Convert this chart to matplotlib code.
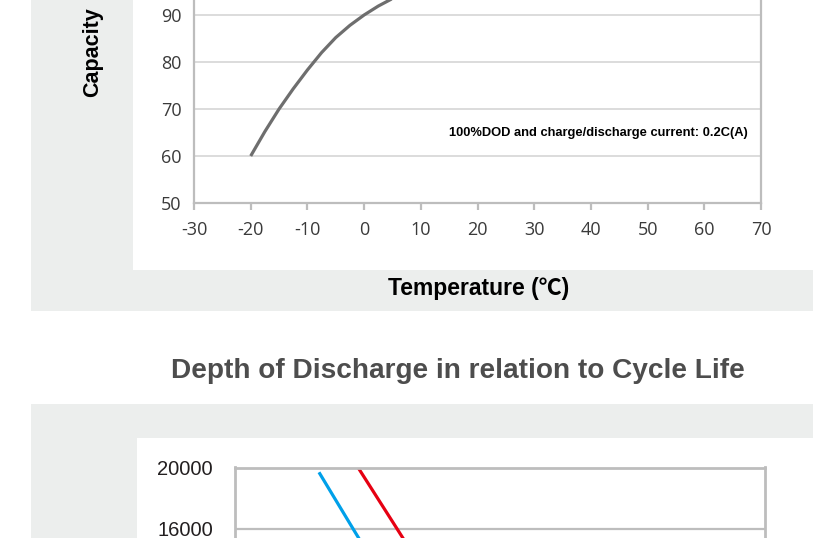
import matplotlib as mpl
mpl.use('Agg')
import matplotlib.pyplot as plt
from matplotlib.patches import Rectangle

plt.rcParams['axes.unicode_minus'] = False

# capacity vs temperature (upper chart, top is cut off in the screenshot)
temps = [-20, -17.5, -15, -12.5, -10, -7.5, -5, -2.5, 0, 2.5, 5, 7.5, 10, 15, 20, 25, 30, 40, 50, 60]
capacity = [60, 65.2, 70, 74.3, 78.3, 82, 85.2, 87.8, 90, 91.9, 93.5, 94.9, 96, 98, 99.2, 100, 100, 100, 100, 100]
temp_ticks = [-30, -20, -10, 0, 10, 20, 30, 40, 50, 60, 70]
cap_ticks = [50, 60, 70, 80, 90]

# depth of discharge vs cycle life (lower chart, bottom is cut off)
dod_blue = [16, 22.3, 26, 30, 40, 50, 60, 70, 80, 90, 100]
cycles_blue = [19600, 16000, 13900, 12000, 9000, 7000, 5500, 4500, 3800, 3200, 2800]
dod_red = [23.4, 30.6, 35, 40, 50, 60, 70, 80, 90, 100]
cycles_red = [19900, 16000, 13600, 11800, 9500, 7800, 6400, 5300, 4400, 3800]
cycle_ticks = [16000, 20000]

W, H = 813., 538.
GRAY_BG = '#eceeed'

def fx(px):
    return px / W

def fy(py):
    return (H - py) / H

def box(fig, x0, y0, x1, y1, color):
    fig.patches.append(Rectangle((fx(x0), fy(y1)), fx(x1) - fx(x0), fy(y0) - fy(y1),
                                 transform=fig.transFigure, facecolor=color,
                                 edgecolor='none', zorder=-10))

fig = plt.figure(figsize=(W / 100, H / 100), dpi=100)
fig.patch.set_facecolor('white')

box(fig, 31, 0, 813, 311, GRAY_BG)
box(fig, 133, 0, 813, 270, 'white')
box(fig, 31, 404, 813, 538, GRAY_BG)
box(fig, 137, 438, 813, 538, 'white')

# ---- upper chart ----
ax1 = fig.add_axes([fx(194), fy(203), (761 - 194) / W, 235 / H])
ax1.plot(temps, capacity, color='#6e6e6e', lw=2.3, solid_capstyle='butt')
ax1.set_xlim(-30, 70)
ax1.set_ylim(50, 100)
ax1.set_xticks(temp_ticks)
ax1.set_yticks(cap_ticks)
ax1.yaxis.grid(True, color='#d6d6d6', lw=1.2)
ax1.set_axisbelow(True)
for s in ['left', 'bottom', 'right']:
    ax1.spines[s].set_color('#bdbdbd')
    ax1.spines[s].set_linewidth(1.6)
ax1.spines['top'].set_visible(False)
ax1.tick_params(axis='x', direction='out', length=5, width=1.6, color='#bdbdbd',
                pad=8, labelsize=13, labelcolor='#3a3a3a')
ax1.tick_params(axis='y', length=0, pad=9, labelsize=13, labelcolor='#3a3a3a')
for lab in ax1.get_xticklabels() + ax1.get_yticklabels():
    lab.set_family('Open Sans')
ax1.text(67.7, 64.9, '100%DOD and charge/discharge current: 0.2C(A)', ha='right', va='center',
         fontsize=9.3, fontweight='bold', family='Liberation Sans', color='black')

fig.text(fx(93), fy(52), 'Capacity', rotation=90, ha='center', va='center',
         fontsize=15.5, fontweight='bold', family='Liberation Sans', color='black')
fig.text(fx(479), fy(289), 'Temperature (℃)', ha='center', va='center',
         fontsize=16.5, fontweight='bold', family=['Liberation Sans', 'Noto Sans CJK SC'],
         color='black')

# ---- lower chart ----
fig.text(fx(457.5), fy(371), 'Depth of Discharge in relation to Cycle Life', ha='center',
         va='center', fontsize=20.2, fontweight='bold', family='Liberation Sans',
         color='#4d4d4d')

ax2 = fig.add_axes([fx(235), fy(775), (765 - 235) / W, 307.5 / H])
ax2.plot(dod_blue, cycles_blue, color='#00a0e9', lw=2.3)
ax2.plot(dod_red, cycles_red, color='#e60012', lw=2.3)
ax2.set_xlim(0, 100)
ax2.set_ylim(0, 20000)
ax2.set_yticks(cycle_ticks)
ax2.set_xticks([])
ax2.yaxis.grid(True, color='#bdbdbd', lw=1.6)
ax2.set_axisbelow(True)
for s in ax2.spines.values():
    s.set_color('#bdbdbd')
    s.set_linewidth(2)
ax2.tick_params(axis='y', length=0, pad=16, labelsize=14.5, labelcolor='#231f20')
for lab in ax2.get_yticklabels():
    lab.set_family('Liberation Sans')

fig.savefig('out.png', dpi=100)
